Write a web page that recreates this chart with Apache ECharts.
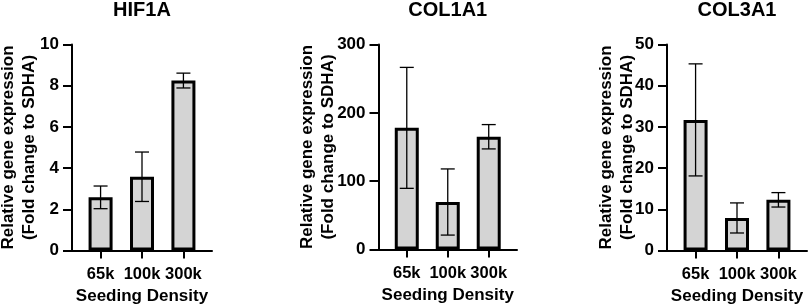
<!DOCTYPE html>
<html>
<head>
<meta charset="utf-8">
<script src="https://cdn.jsdelivr.net/npm/echarts@6/dist/echarts.min.js"></script>
<style>
html,body{margin:0;padding:0;background:#fff;}
#chart{width:809px;height:307px;}
</style>
</head>
<body>
<div id="chart"></div>
<script>
// ---- data ----
var categories = ['65k', '100k', '300k'];
var titles = ['HIF1A', 'COL1A1', 'COL3A1'];
var hif1aMean = [2.58, 3.58, 8.25];
var hif1aErr = [0.55, 1.2, 0.36];
var col1a1Mean = [178, 69.5, 165];
var col1a1Err = [88.5, 48.4, 17.8];
var col3a1Mean = [31.7, 7.9, 12.3];
var col3a1Err = [13.6, 3.65, 1.75];
var yMax = [10, 300, 50];
var yInterval = [2, 100, 10];
var yAxisTitle = 'Relative gene expression\n(Fold change to SDHA)';
var xAxisTitle = 'Seeding Density';

var means = [hif1aMean, col1a1Mean, col3a1Mean];
var errs = [hif1aErr, col1a1Err, col3a1Err];

var FONT = 'Arial, "Liberation Sans", Helvetica, sans-serif';
var grids = [
  {left: 72, top: 44.5, width: 140, height: 206},
  {left: 378.5, top: 44.5, width: 138.5, height: 205},
  {left: 667, top: 44.5, width: 140, height: 206}
];
var nameGaps = [32.5, 39.7, 29.2];
var xPos = [1, 2, 3];

var option = {
  animation: false,
  backgroundColor: '#fff',
  title: [], grid: [], xAxis: [], yAxis: [], series: []
};

for (var i = 0; i < 3; i++) {
  var g = grids[i];
  option.grid.push({left: g.left, top: g.top, width: g.width, height: g.height,
    containLabel: false, outerBoundsMode: 'none'});
  option.title.push({
    text: titles[i],
    left: g.left + g.width * (2 - 0.31) / 3.38,
    top: 0,
    padding: 0,
    textAlign: 'center',
    textStyle: {fontFamily: FONT, fontWeight: 'bold', fontSize: 20, color: '#000'}
  });
  option.xAxis.push({
    type: 'value', gridIndex: i, min: 0.31, max: 3.69,
    splitLine: {show: false},
    axisLine: {show: true, lineStyle: {color: '#000', width: 2}},
    axisTick: {show: true, customValues: xPos, length: 8, lineStyle: {color: '#000', width: 2}},
    axisLabel: {show: true, customValues: xPos, margin: 15,
      formatter: function (v) { return categories[Math.round(v) - 1]; },
      fontFamily: FONT, fontWeight: 'bold', fontSize: 16.5, color: '#000'},
    name: xAxisTitle, nameLocation: 'middle', nameGap: 37, nameMoveOverlap: false,
    nameTextStyle: {fontFamily: FONT, fontWeight: 'bold', fontSize: 17, color: '#000'}
  });
  option.yAxis.push({
    type: 'value', gridIndex: i, min: 0, max: yMax[i], interval: yInterval[i],
    splitLine: {show: false},
    axisLine: {show: true, lineStyle: {color: '#000', width: 2}},
    axisTick: {show: true, length: 9, lineStyle: {color: '#000', width: 2}},
    axisLabel: {margin: 13, fontFamily: FONT, fontWeight: 'bold', fontSize: 17, color: '#000'},
    name: yAxisTitle, nameLocation: 'middle', nameRotate: 90, nameGap: nameGaps[i],
    nameMoveOverlap: false,
    nameTextStyle: {fontFamily: FONT, fontWeight: 'bold', fontSize: 17, lineHeight: 21, color: '#000', align: 'center'}
  });
  var barData = [], errData = [];
  for (var j = 0; j < categories.length; j++) {
    barData.push([xPos[j], means[i][j]]);
    errData.push([xPos[j], means[i][j] - errs[i][j], means[i][j] + errs[i][j]]);
  }
  option.series.push({
    type: 'bar', xAxisIndex: i, yAxisIndex: i, data: barData, barWidth: 24,
    itemStyle: {color: '#d4d4d4', borderColor: '#000', borderWidth: 3},
    z: 2
  });
  option.series.push({
    type: 'custom', xAxisIndex: i, yAxisIndex: i, data: errData, z: 3,
    encode: {x: 0, y: [1, 2]},
    renderItem: function (params, api) {
      var x = api.value(0);
      var lo = api.coord([x, api.value(1)]);
      var hi = api.coord([x, api.value(2)]);
      var hw = 7;
      var st = {stroke: '#000', lineWidth: 1.3};
      return {type: 'group', children: [
        {type: 'line', shape: {x1: lo[0], y1: lo[1], x2: hi[0], y2: hi[1]}, style: st},
        {type: 'line', shape: {x1: hi[0] - hw, y1: hi[1], x2: hi[0] + hw, y2: hi[1]}, style: st},
        {type: 'line', shape: {x1: lo[0] - hw, y1: lo[1], x2: lo[0] + hw, y2: lo[1]}, style: st}
      ]};
    }
  });
}

var chart = echarts.init(document.getElementById('chart'), null, {renderer: 'canvas'});
chart.setOption(option);
</script>
</body>
</html>
